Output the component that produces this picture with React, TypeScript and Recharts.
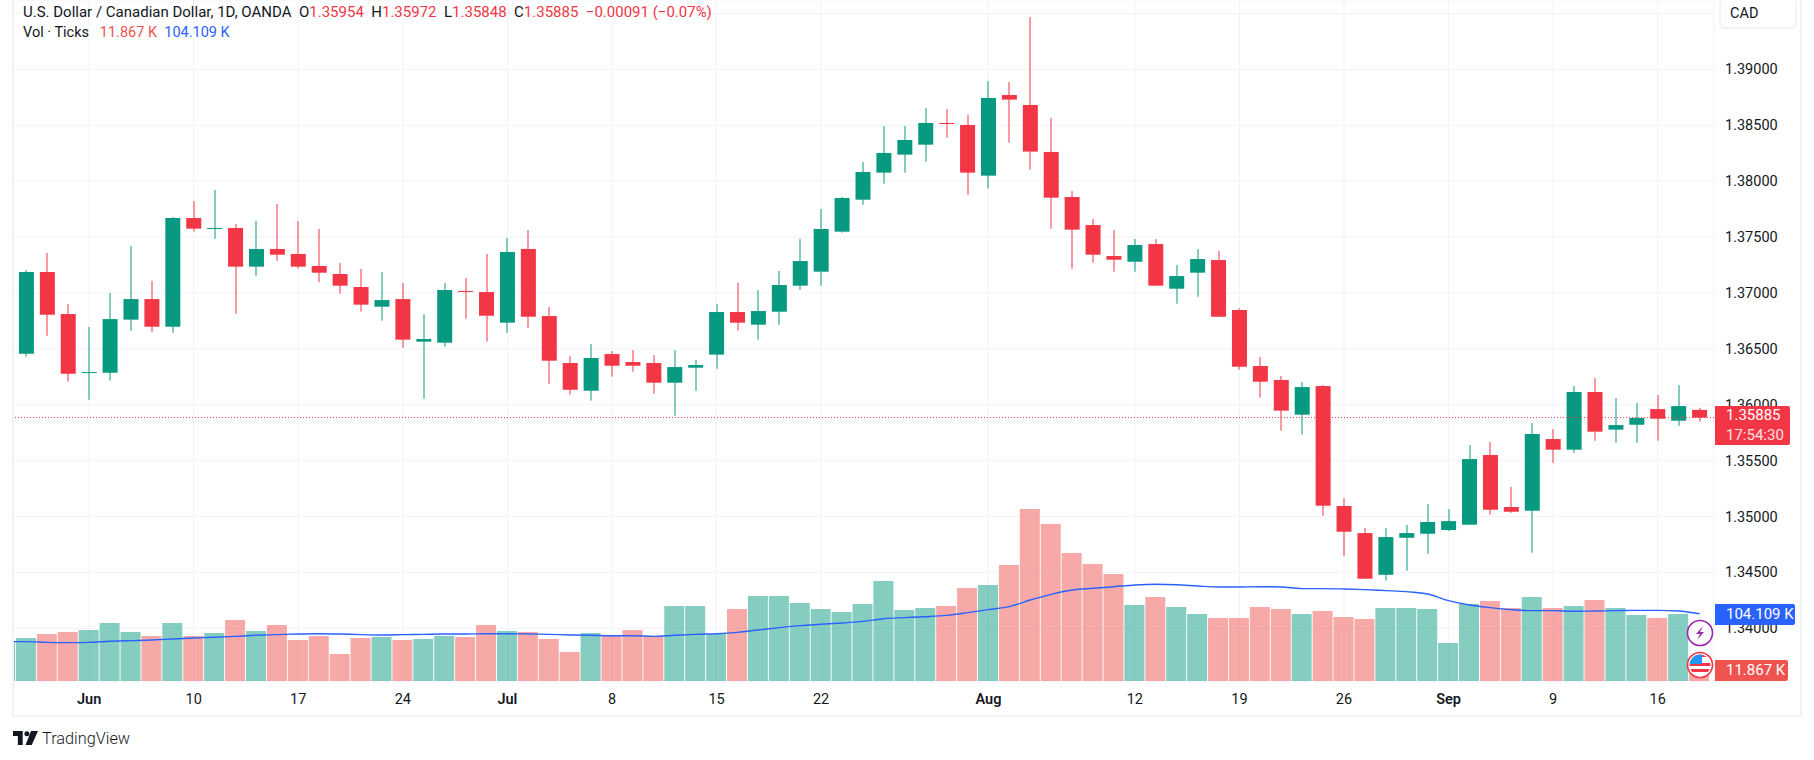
import React from "react";
import { ComposedChart, Bar, Line, XAxis, YAxis, CartesianGrid, ReferenceLine, Cell } from "recharts";

const dates = [
  "05-28","05-29","05-30","05-31",
  "06-03","06-04","06-05","06-06","06-07","06-10","06-11","06-12","06-13","06-14",
  "06-17","06-18","06-19","06-20","06-21","06-24","06-25","06-26","06-27","06-28",
  "07-01","07-02","07-03","07-04","07-05","07-08","07-09","07-10","07-11","07-12",
  "07-15","07-16","07-17","07-18","07-19","07-22","07-23","07-24","07-25","07-26",
  "07-29","07-30","07-31","08-01","08-02","08-05","08-06","08-07","08-08","08-09",
  "08-12","08-13","08-14","08-15","08-16","08-19","08-20","08-21","08-22","08-23",
  "08-26","08-27","08-28","08-29","08-30","09-02","09-03","09-04","09-05","09-06",
  "09-09","09-10","09-11","09-12","09-13","09-16","09-17","09-18",
];
// The first session (05-28) is cut off by the pane's left edge: only a sliver of its volume bar and the average show.
const opens = [
  null,
  1.36456,1.37187,1.36811,1.36286,1.36286,1.36761,1.36945,1.36698,1.3767,1.37572,
  1.37581,1.37235,1.37393,1.37348,1.37241,1.37169,1.37053,1.36877,1.36945,1.36564,
  1.36555,1.37017,1.37008,1.36734,1.37393,1.36793,1.36373,1.36125,1.36453,1.36382,
  1.36373,1.36197,1.36331,1.36448,1.36829,1.36716,1.36832,1.37065,1.3719,1.37548,
  1.37834,1.38076,1.38237,1.38326,1.3852,1.38502,1.38049,1.3877,1.38681,1.38261,
  1.37858,1.37607,1.3733,1.37279,1.37437,1.37038,1.37181,1.37294,1.36847,1.36346,
  1.36221,1.35911,1.36167,1.35094,1.34852,1.34479,1.3481,1.34846,1.34879,1.34927,
  1.3555,1.35085,1.35052,1.35693,1.35598,1.36114,1.35777,1.35821,1.35961,1.35857,
  1.35954,
];
const highs = [
  null,
  1.37205,1.37357,1.36901,1.36695,1.36999,1.3742,1.37106,1.37679,1.37822,1.37921,
  1.37616,1.37643,1.37795,1.37643,1.37572,1.37267,1.37214,1.37187,1.37089,1.36811,
  1.37089,1.37133,1.37348,1.37491,1.37563,1.36874,1.36435,1.36543,1.3648,1.36489,
  1.36444,1.36489,1.364,1.36901,1.37089,1.37026,1.37196,1.37482,1.37751,1.37858,
  1.38171,1.38493,1.38493,1.38654,1.38645,1.38592,1.38896,1.38887,1.39468,1.38565,
  1.37912,1.37661,1.37563,1.37482,1.37482,1.3725,1.37393,1.37375,1.36862,1.36427,
  1.36257,1.36203,1.36176,1.35165,1.34897,1.34897,1.34924,1.35112,1.35067,1.35639,
  1.35666,1.35264,1.35836,1.35782,1.36167,1.36239,1.3606,1.36015,1.36087,1.36176,
  1.35972,
];
const lows = [
  null,
  1.3643,1.36617,1.36206,1.36045,1.36215,1.36662,1.36653,1.36644,1.37548,1.37485,
  1.36814,1.37154,1.37288,1.37217,1.37097,1.36993,1.36832,1.36752,1.3651,1.36054,
  1.36519,1.36769,1.36564,1.36644,1.36689,1.36188,1.3609,1.36036,1.36251,1.36295,
  1.36099,1.35902,1.36125,1.36322,1.36662,1.36582,1.36716,1.37029,1.37065,1.37539,
  1.37789,1.37977,1.38076,1.38174,1.38389,1.37879,1.37933,1.38344,1.38103,1.37575,
  1.37217,1.37271,1.3719,1.3719,1.37065,1.36904,1.36966,1.36787,1.36313,1.36063,
  1.35768,1.35732,1.35007,1.34649,1.34444,1.34426,1.34515,1.34667,1.3487,1.34927,
  1.35016,1.35034,1.34676,1.35478,1.35571,1.35678,1.3566,1.3566,1.35678,1.35812,
  1.35848,
];
const closes = [
  null,
  1.37187,1.36805,1.36277,1.36292,1.36766,1.36945,1.36698,1.3767,1.37575,1.37581,
  1.37235,1.37393,1.37342,1.37235,1.37181,1.37065,1.36895,1.36936,1.36582,1.36588,
  1.37026,1.37011,1.36796,1.37366,1.36787,1.36394,1.36134,1.36418,1.36349,1.36349,
  1.36197,1.36337,1.36355,1.36829,1.36734,1.36838,1.37071,1.37285,1.37572,1.37849,
  1.38082,1.38252,1.38368,1.3852,1.38514,1.38076,1.38744,1.38729,1.38264,1.37852,
  1.37566,1.37342,1.37297,1.37429,1.37065,1.37151,1.37303,1.36787,1.3634,1.36206,
  1.35947,1.36158,1.35097,1.34864,1.34444,1.34816,1.34852,1.34951,1.34959,1.35514,
  1.35061,1.35043,1.35738,1.35598,1.36114,1.35759,1.35818,1.35881,1.35875,1.35988,
  1.35885,
];
const volumes = [
  61,
  66.5,72.7,75.8,78.9,89.7,75.8,69.6,89.7,69.6,74.3,94.4,77.4,86.6,63.4,69.6,41.8,66.5,68.1,63.4,65.0,
  69.6,68.1,86.6,77.4,75.8,65.0,44.9,74.3,69.6,78.9,69.6,116,116,72.7,111.4,131.5,131.5,120.7,111.4,106.8,
  119.1,154.7,109.8,112.9,116,143.9,148.5,179.5,266.1,242.9,198,181,165.5,117.6,130,114.5,103.7,97.5,97.5,114.5,
  111.4,103.7,108.3,99,95.9,112.9,112.9,111.4,58.8,119.1,123.8,112.9,130,112.9,116,125.3,112.9,102.1,97.5,103.7,
  11.867,
];
const volumeMA = [
  61,
  60.9,59.8,59.3,59.8,61.4,62.4,63.4,65,66.5,67.6,69.1,70.7,71.7,72.7,73.2,72.7,71.7,71.2,71.7,72.2,
  72.7,72.7,73.2,73.2,72.7,72.2,71.2,70.7,70.1,70.1,69.1,70.7,72.2,73.2,75.3,78.9,82.5,85.6,87.7,89.7,
  92.3,96.4,98,99.5,101.6,105.7,110.4,115,125.3,134.1,140.8,143.4,145.9,148.5,149.6,149,147,145.4,145.4,145.9,
  145.4,142.9,142.9,142.3,141.3,139.8,138.2,134.6,124.3,117.6,113.5,110.4,108.8,108.8,107.8,108.3,108.8,109.3,109.3,108.3,
  104.109,
];
const tickDates = ["06-03","06-10","06-17","06-24","07-01","07-08","07-15","07-22","08-01","08-12","08-19","08-26","09-02","09-09","09-16"];
const tickTexts = ["Jun","10","17","24","Jul","8","15","22","Aug","12","19","26","Sep","9","16"];
const priceTicks = [1.34,1.345,1.35,1.355,1.36,1.365,1.37,1.375,1.38,1.385,1.39,1.395];

const data = dates.map((date, i) => ({
  date, open: opens[i], high: highs[i], low: lows[i], close: closes[i], volume: volumes[i], ma: volumeMA[i],
}));

const UP = "#089981";
const DOWN = "#F23645";
const VOL_UP = "rgba(8,153,129,0.49)";
const VOL_DOWN = "rgba(239,83,80,0.5)";
const FONT = "Roboto, sans-serif";
const INK = "#131722";
const GRID = "#F0F3FA";

function Candle(props: any) {
  const { x, y, width, height, payload } = props;
  if (!payload || payload.high == null) return null;
  const k = height / (payload.high - payload.low);
  const top = y + (payload.high - Math.max(payload.open, payload.close)) * k;
  const bot = y + (payload.high - Math.min(payload.open, payload.close)) * k;
  const color = payload.close >= payload.open ? UP : DOWN;
  const cx = Math.round(x + width / 2);
  return (
    <g>
      <rect x={cx - 0.5} y={y} width={1} height={height} fill={color} />
      <rect x={x} y={top} width={width} height={Math.max(1, bot - top)} fill={color} />
    </g>
  );
}

function DateTick(props: any) {
  const { x, payload } = props;
  const text = tickTexts[tickDates.indexOf(payload.value)];
  const strong = /[A-Za-z]/.test(text || "");
  return (
    <text x={x} y={704} textAnchor="middle" fontFamily={FONT} fontSize={14.5} fontWeight={strong ? 600 : 400} fill={INK}>
      {text}
    </text>
  );
}

function PriceTick(props: any) {
  const { y, payload } = props;
  if (payload.value > 1.39) return null;
  return (
    <text x={1725} y={y + 5} fontFamily={FONT} fontSize={14.5} fill={INK}>
      {payload.value.toFixed(5)}
    </text>
  );
}

const abs = (s: React.CSSProperties): React.CSSProperties => ({ position: "absolute", whiteSpace: "nowrap", fontFamily: FONT, ...s });

function PriceBadge({ top, height, width, bg, lines }: any) {
  return (
    <div style={abs({ left: 1715, top, width, height, background: bg, borderRadius: "0 2px 2px 0", color: "#fff", fontSize: 15, paddingLeft: 11, boxSizing: "border-box", lineHeight: height / lines.length + "px" })}>
      {lines.map((t: string, i: number) => <div key={i} style={{ opacity: i ? 0.85 : 1 }}>{t}</div>)}
    </div>
  );
}

export default function App() {
  return (
    <div style={{ position: "absolute", left: 0, top: 0, width: 1814, height: 760, background: "#fff", overflow: "hidden" }}>
      <ComposedChart width={1814} height={760} data={data} margin={{ top: 0, right: 0, bottom: 44, left: -7 }} style={{ position: "absolute", left: 0, top: 0 }}>
        <XAxis xAxisId="p" dataKey="date" ticks={tickDates} interval={0} tick={<DateTick />} axisLine={false} tickLine={false} height={35} padding={{ left: 2, right: 4 }} />
        <XAxis xAxisId="v" dataKey="date" hide padding={{ left: 2, right: 4 }} />
        <YAxis yAxisId="p" orientation="right" domain={[1.33529, 1.3962]} ticks={priceTicks} interval={0} tick={<PriceTick />} axisLine={false} tickLine={false} width={100} allowDataOverflow />
        <YAxis yAxisId="v" hide domain={[0, 1053.5]} allowDataOverflow />
        <CartesianGrid xAxisId="p" yAxisId="p" stroke={GRID} strokeWidth={1} />
        <Bar xAxisId="v" yAxisId="v" dataKey="volume" barSize={20} isAnimationActive={false}>
          {data.map((d) => <Cell key={d.date} fill={d.close == null || d.close >= (d.open as number) ? VOL_UP : VOL_DOWN} />)}
        </Bar>
        <Line xAxisId="v" yAxisId="v" dataKey="ma" type="monotone" dot={false} activeDot={false} stroke="#2962FF" strokeWidth={1.4} isAnimationActive={false} />
        <Bar xAxisId="p" yAxisId="p" dataKey={(d: any) => [d.low, d.high]} barSize={15} shape={<Candle />} isAnimationActive={false} />
        <ReferenceLine xAxisId="p" yAxisId="p" y={1.35885} stroke={DOWN} strokeWidth={1} strokeDasharray="1 2" />
      </ComposedChart>

      <div style={{ position: "absolute", left: 0, top: 0, width: 12, height: 760, background: "#fff" }} />
      <div style={{ position: "absolute", left: 12, top: 0, width: 2, height: 717, background: GRID }} />
      <div style={{ position: "absolute", left: 1800, top: 0, width: 2, height: 717, background: GRID }} />
      <div style={{ position: "absolute", left: 12, top: 715, width: 1790, height: 2, background: GRID }} />

      <div style={abs({ left: 23, top: 3, fontSize: 15, lineHeight: "18px", color: INK })}>
        U.S. Dollar / Canadian Dollar, 1D, OANDA{"\u00A0\u00A0"}O<span style={{ color: DOWN }}>1.35954</span>{"\u00A0\u00A0"}H<span style={{ color: DOWN }}>1.35972</span>{"\u00A0\u00A0"}L<span style={{ color: DOWN }}>1.35848</span>{"\u00A0\u00A0"}C<span style={{ color: DOWN }}>1.35885</span>{"\u00A0\u00A0"}<span style={{ color: DOWN }}>−0.00091 (−0.07%)</span>
      </div>
      <div style={abs({ left: 23, top: 24, fontSize: 14.5, lineHeight: "18px", color: INK })}>
        Vol · Ticks{"\u00A0\u00A0\u00A0"}<span style={{ color: "#EF5350" }}>11.867 K</span>{"\u00A0\u00A0"}<span style={{ color: "#2962FF" }}>104.109 K</span>
      </div>

      <div style={abs({ left: 1719, top: -2, width: 78, height: 31, border: `2px solid ${GRID}`, borderRadius: 6, boxSizing: "border-box", fontSize: 14.5, color: INK, paddingLeft: 9, lineHeight: "27px" })}>CAD</div>

      <PriceBadge top={406} height={39} width={75} bg={DOWN} lines={["1.35885", "17:54:30"]} />
      <PriceBadge top={604} height={21} width={80} bg="#2962FF" lines={["104.109 K"]} />
      <PriceBadge top={660} height={21} width={73} bg="#EF5350" lines={["11.867 K"]} />

      <svg style={{ position: "absolute", left: 1685, top: 618, width: 30, height: 64, overflow: "visible" }}>
        <circle cx={15} cy={15} r={12.5} fill="#fff" stroke="#9C27B0" strokeWidth={1.6} />
        <path d="M18 8 L11 16 L15 16 L12 22 L19 14 L15 14 Z" fill="#9C27B0" />
        <clipPath id="flagClip"><circle cx={15} cy={47} r={10.5} /></clipPath>
        <circle cx={15} cy={47} r={12.5} fill="#fff" stroke="#F23645" strokeWidth={1.6} />
        <g clipPath="url(#flagClip)">
          <rect x={3} y={36} width={24} height={24} fill="#fff" />
          <rect x={3} y={45} width={24} height={3} fill="#F23645" />
          <rect x={3} y={51} width={24} height={3} fill="#F23645" />
          <rect x={3} y={36} width={24} height={3} fill="#F23645" />
          <rect x={4} y={36} width={13} height={10} fill="#2196F3" />
        </g>
      </svg>

      <svg style={{ position: "absolute", left: 13, top: 731, width: 25, height: 14 }} viewBox="0 0 36 20">
        <path d="M0 0 H14 V20 H7 V7 H0 Z" fill={INK} />
        <circle cx={20} cy={4} r={3.6} fill={INK} />
        <path d="M26 0 H36 L27 20 H18 Z" fill={INK} />
      </svg>
      <div style={abs({ left: 42, top: 729, fontSize: 16.3, lineHeight: "20px", color: INK, fontWeight: 300 })}>TradingView</div>
    </div>
  );
}
